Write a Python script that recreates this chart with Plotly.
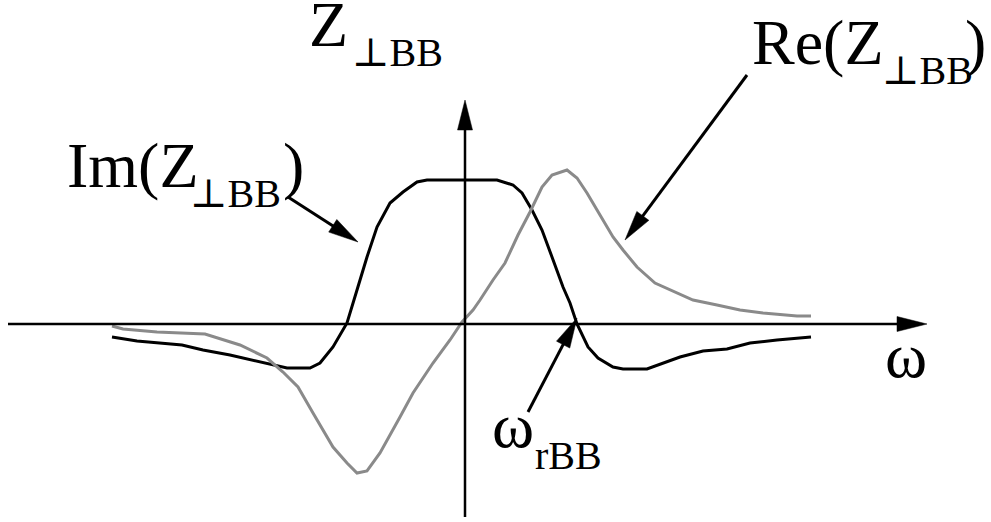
import math
import plotly.graph_objects as go

# Broadband resonator transverse impedance sketch (arbitrary units)
omega_im = [-3.53, -3.28, -2.83, -2.62, -2.35, -1.98, -1.78, -1.55, -1.45, -1.32,
            -1.18, -1.08, -0.98, -0.88, -0.75, -0.62, -0.48, -0.38, 0.00, 0.32,
            0.48, 0.57, 0.67, 0.77, 0.87, 0.98, 1.05, 1.12, 1.23, 1.33,
            1.48, 1.58, 1.82, 1.95, 2.15, 2.38, 2.62, 2.85, 3.12, 3.46]
im_z = [-0.13, -0.17, -0.21, -0.26, -0.31, -0.39, -0.44, -0.44, -0.39, -0.23,
        0.01, 0.34, 0.67, 0.97, 1.21, 1.32, 1.42, 1.44, 1.44, 1.44,
        1.39, 1.31, 1.14, 0.94, 0.67, 0.37, 0.21, 0.00, -0.23, -0.34,
        -0.43, -0.45, -0.45, -0.40, -0.33, -0.27, -0.25, -0.19, -0.16, -0.13]

omega_re = [-3.53, -3.42, -3.08, -2.60, -2.25, -1.98, -1.82, -1.67, -1.52, -1.32,
            -1.18, -1.08, -0.98, -0.85, -0.65, -0.52, -0.32, -0.15, -0.03, 0.08,
            0.15, 0.28, 0.40, 0.53, 0.65, 0.77, 0.87, 1.02, 1.12, 1.22,
            1.35, 1.48, 1.58, 1.72, 1.90, 2.05, 2.28, 2.52, 2.75, 2.98,
            3.32, 3.46]
re_z = [-0.02, -0.05, -0.08, -0.10, -0.21, -0.34, -0.48, -0.63, -0.89, -1.23,
        -1.39, -1.49, -1.47, -1.29, -0.93, -0.69, -0.39, -0.16, 0.02, 0.14,
        0.24, 0.44, 0.61, 0.89, 1.12, 1.37, 1.49, 1.54, 1.46, 1.31,
        1.09, 0.87, 0.74, 0.57, 0.41, 0.34, 0.24, 0.19, 0.14, 0.11,
        0.08, 0.08]

# arrows: (start x, start y, tip x, tip y, line width)
axis_arrows = [(-4.57, 0.0, 4.62, 0.0, 2.5), (0.0, -1.93, 0.0, 2.24, 2.5)]
pointer_arrows = [(-1.77, 1.27, -1.07, 0.82, 3), (2.82, 2.49, 1.60, 0.84, 3),
                  (0.63, -0.88, 1.12, 0.06, 3)]

# text pieces: (text, x anchor, y bottom, font size, horizontal anchor)
labels = [("Z", -1.58, 2.62, 64, "left"), ("\u22a5BB", -1.15, 2.47, 40, "left"),
          ("Im(Z", -4.00, 1.21, 64, "left"), ("\u22a5BB", -2.77, 1.06, 40, "left"),
          (")", -1.84, 1.21, 64, "left"),
          ("Re(Z", 2.85, 2.44, 64, "left"), ("\u22a5BB", 4.15, 2.29, 40, "left"),
          (")", 5.23, 2.44, 64, "right"),
          ("\u03c9", 4.18, -0.69, 64, "left"),
          ("\u03c9", 0.25, -1.39, 64, "left"), ("rBB", 0.68, -1.56, 40, "left")]

FONT = "Liberation Serif, DejaVu Serif, serif"

fig = go.Figure()
fig.add_trace(go.Scatter(x=omega_im, y=im_z, mode="lines",
                         line=dict(color="black", width=3), name="Im"))
fig.add_trace(go.Scatter(x=omega_re, y=re_z, mode="lines",
                         line=dict(color="#8a8a8a", width=3), name="Re"))


def add_arrow(x0, y0, x1, y1, lw, head_len=0.30, head_w=0.15):
    dx, dy = x1 - x0, y1 - y0
    n = math.hypot(dx, dy)
    ux, uy = dx / n, dy / n
    bx, by = x1 - ux * head_len, y1 - uy * head_len
    fig.add_shape(type="line", x0=x0, y0=y0, x1=bx + ux * 0.05, y1=by + uy * 0.05,
                  line=dict(color="black", width=lw))
    px, py = -uy * head_w / 2, ux * head_w / 2
    path = (f"M{x1},{y1} L{bx + px},{by + py} L{bx - px},{by - py} Z")
    fig.add_shape(type="path", path=path, fillcolor="black",
                  line=dict(color="black", width=0.5))


for a in axis_arrows + pointer_arrows:
    add_arrow(*a)

for text, x, y, size, anchor in labels:
    fig.add_annotation(x=x, y=y, text=text, showarrow=False, xanchor=anchor,
                       yanchor="bottom", font=dict(family=FONT, size=size, color="black"))

fig.update_layout(
    width=991, height=522, margin=dict(l=0, r=0, t=0, b=0),
    paper_bgcolor="white", plot_bgcolor="white", showlegend=False,
    xaxis=dict(range=[-4.65, 5.26], visible=False, fixedrange=True),
    yaxis=dict(range=[-1.98, 3.24], visible=False, fixedrange=True),
)

fig.write_html("out.html")
